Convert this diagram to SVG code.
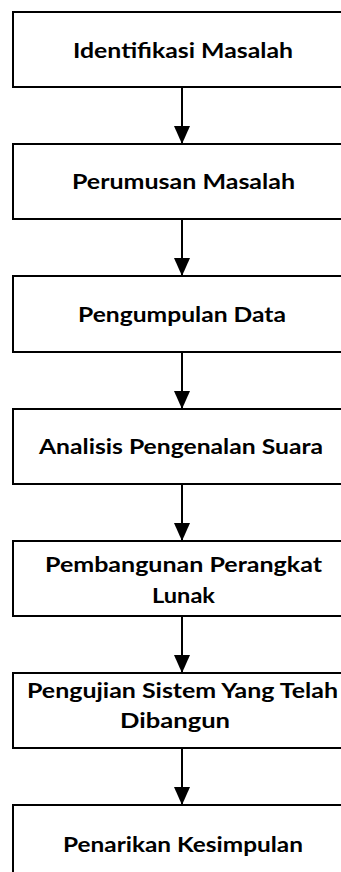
<svg xmlns="http://www.w3.org/2000/svg" width="341" height="872" viewBox="0 0 341 872">
<style>
.box{fill:#fff;stroke:#000;stroke-width:2}
.t{font-family:Lato,"Open Sans","Liberation Sans",sans-serif;font-weight:700;font-size:21px;fill:#000;text-anchor:middle}
.c{stroke:#000;stroke-width:2;fill:none}
</style>
<defs>
<marker id="ah" viewBox="0 0 18 16" refX="18" refY="8" markerWidth="18" markerHeight="16" markerUnits="userSpaceOnUse" orient="auto">
<path d="M0,0 L18,8 L0,16 Z" fill="#000"/>
</marker>
</defs>
<rect width="341" height="872" fill="#fff"/>
<g id="connectors">
<line class="c" x1="182" y1="87" x2="182" y2="144" marker-end="url(#ah)"/>
<line class="c" x1="182" y1="219" x2="182" y2="276" marker-end="url(#ah)"/>
<line class="c" x1="182" y1="352" x2="182" y2="409" marker-end="url(#ah)"/>
<line class="c" x1="182" y1="484" x2="182" y2="541" marker-end="url(#ah)"/>
<line class="c" x1="182" y1="616" x2="182" y2="673" marker-end="url(#ah)"/>
<line class="c" x1="182" y1="748" x2="182" y2="805" marker-end="url(#ah)"/>
</g>
<g id="n1"><rect class="box" x="13" y="12" width="340" height="75"/><text class="t" x="183" y="58" textLength="220" lengthAdjust="spacingAndGlyphs">Identifikasi Masalah</text></g>
<g id="n2"><rect class="box" x="13" y="144" width="340" height="75"/><text class="t" x="183.5" y="189" textLength="223" lengthAdjust="spacingAndGlyphs">Perumusan Masalah</text></g>
<g id="n3"><rect class="box" x="13" y="276" width="340" height="76"/><text class="t" x="182" y="322" textLength="208" lengthAdjust="spacingAndGlyphs">Pengumpulan Data</text></g>
<g id="n4"><rect class="box" x="13" y="409" width="340" height="75"/><text class="t" x="181" y="454" textLength="284" lengthAdjust="spacingAndGlyphs">Analisis Pengenalan Suara</text></g>
<g id="n5"><rect class="box" x="13" y="541" width="340" height="75"/><text class="t" x="183.5" y="572" textLength="277" lengthAdjust="spacingAndGlyphs">Pembangunan Perangkat</text><text class="t" x="183.5" y="603" textLength="63" lengthAdjust="spacingAndGlyphs">Lunak</text></g>
<g id="n6"><rect class="box" x="13" y="673" width="340" height="75"/><text class="t" x="182.5" y="698" textLength="311" lengthAdjust="spacingAndGlyphs">Pengujian Sistem Yang Telah</text><text class="t" x="175" y="728" textLength="110" lengthAdjust="spacingAndGlyphs">Dibangun</text></g>
<g id="n7"><rect class="box" x="13" y="805" width="340" height="75"/><text class="t" x="183" y="852" textLength="240" lengthAdjust="spacingAndGlyphs">Penarikan Kesimpulan</text></g>
</svg>
